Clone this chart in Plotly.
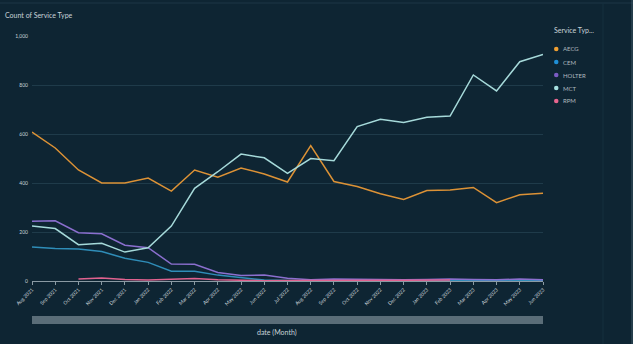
import plotly.graph_objects as go

months = ["Aug 2021", "Sep 2021", "Oct 2021", "Nov 2021", "Dec 2021", "Jan 2022",
          "Feb 2022", "Mar 2022", "Apr 2022", "May 2022", "Jun 2022", "Jul 2022",
          "Aug 2022", "Sep 2022", "Oct 2022", "Nov 2022", "Dec 2022", "Jan 2023",
          "Feb 2023", "Mar 2023", "Apr 2023", "May 2023", "Jun 2023"]

aecg = [608, 543, 453, 400, 400, 420, 367, 453, 424, 461, 437, 404,
        553, 406, 386, 356, 333, 369, 371, 382, 320, 352, 358]
cem = [139, 133, 131, 120, 93, 76, 40, 40, 24, 15, 4, 2,
       1, 1, 1, 1, 1, 1, 1, 1, 1, 1, 1]
holter = [244, 246, 197, 193, 146, 136, 69, 68, 35, 22, 24, 11,
          5, 8, 7, 5, 5, 6, 8, 6, 5, 8, 5]
mct = [224, 214, 148, 154, 118, 136, 224, 378, 446, 518, 503, 439,
       500, 491, 630, 660, 647, 668, 673, 841, 776, 895, 925]
rpm = [None, None, 8, 12, 6, 4, 7, 10, 5, 2, 1, 2,
       3, 3, 2, 3, 3, 3, 4, None, None, None, None]

series_names = ["AECG", "CEM", "HOLTER", "MCT", "RPM"]
series_values = [aecg, cem, holter, mct, rpm]
line_colors = ["#dc9236", "#2f8db8", "#8b6fcf", "#a6dada", "#e0628f"]
dot_colors = ["#f0a033", "#1f8fd6", "#7b5cc4", "#a6e0e0", "#e8668f"]

y_tickvals = [0, 200, 400, 600, 800, 1000]
y_ticktext = ["0", "200", "400", "600", "800", "1,000"]

bg = "#0e2533"
text_col = "#c9d3d8"
FONT = "Lato"

# plot area geometry (px)
L, R, T, B = 32, 90, 36, 63
PH = 344 - T - B
PW = 633 - L - R

def px_y(py):
    return (344 - B - py) / PH

def px_x(px):
    return (px - L) / PW

fig = go.Figure()
for name, vals, lc in zip(series_names, series_values, line_colors):
    fig.add_trace(go.Scatter(x=months, y=vals, mode="lines", name=name,
                             line=dict(color=lc, width=1.5), showlegend=False,
                             connectgaps=False))

annotations = [
    dict(text="Service Typ...", xref="paper", yref="paper", x=px_x(552), y=px_y(30),
         xanchor="left", yanchor="middle", showarrow=False,
         font=dict(size=7, color=text_col, family=FONT)),
    dict(text="date (Month)", xref="paper", yref="paper", x=px_x(277), y=px_y(333),
         xanchor="center", yanchor="middle", showarrow=False,
         font=dict(size=7, color=text_col, family=FONT)),
]
shapes = [
    dict(type="rect", xref="x domain", yref="paper", x0=0, x1=1,
         y0=px_y(324), y1=px_y(316), fillcolor="#5a6d78", line=dict(width=0), layer="above"),
    dict(type="line", xref="paper", yref="paper", x0=px_x(0), x1=px_x(633),
         y0=px_y(3), y1=px_y(3), line=dict(color="#1c3747", width=1)),
    dict(type="line", xref="paper", yref="paper", x0=px_x(603), x1=px_x(603),
         y0=px_y(3), y1=px_y(344), line=dict(color="#14303e", width=1)),
    dict(type="line", xref="paper", yref="paper", x0=px_x(632), x1=px_x(632),
         y0=px_y(0), y1=px_y(344), line=dict(color="#3a5664", width=1)),
]
for i, (name, dc) in enumerate(zip(series_names, dot_colors)):
    yy = 49 + 13 * i
    shapes.append(dict(type="circle", xref="paper", yref="paper",
                       x0=px_x(554), x1=px_x(558.5), y0=px_y(yy + 2.25), y1=px_y(yy - 2.25),
                       fillcolor=dc, line=dict(width=0)))
    annotations.append(dict(text=name, xref="paper", yref="paper", x=px_x(561), y=px_y(yy),
                            xanchor="left", yanchor="middle", showarrow=False,
                            font=dict(size=6, color="#aeb9bf", family=FONT)))

fig.update_layout(
    width=633, height=344,
    paper_bgcolor=bg, plot_bgcolor=bg,
    margin=dict(l=L, r=R, t=T, b=B),
    font=dict(family=FONT, color=text_col, size=6),
    showlegend=False,
    title=dict(text="Count of Service Type", x=5 / 633, xanchor="left", y=1 - 16 / 344,
               yanchor="middle", font=dict(size=7, color=text_col, family=FONT)),
    xaxis=dict(type="category", range=[0, 22], tickangle=-45, automargin=False,
               tickfont=dict(size=5, color=text_col), showgrid=False,
               showline=True, linecolor="#8a9aa3", linewidth=1,
               ticks="outside", ticklen=3, tickcolor="#8a9aa3", zeroline=False),
    yaxis=dict(range=[0, 1000], tickvals=y_tickvals, ticktext=y_ticktext, automargin=False,
               tickfont=dict(size=5, color=text_col), showgrid=True,
               gridcolor="#1f3b4a", gridwidth=1, zeroline=False,
               showline=False, ticks="", ticklabelstandoff=3),
    annotations=annotations,
    shapes=shapes,
)

fig.write_html("out.html")
